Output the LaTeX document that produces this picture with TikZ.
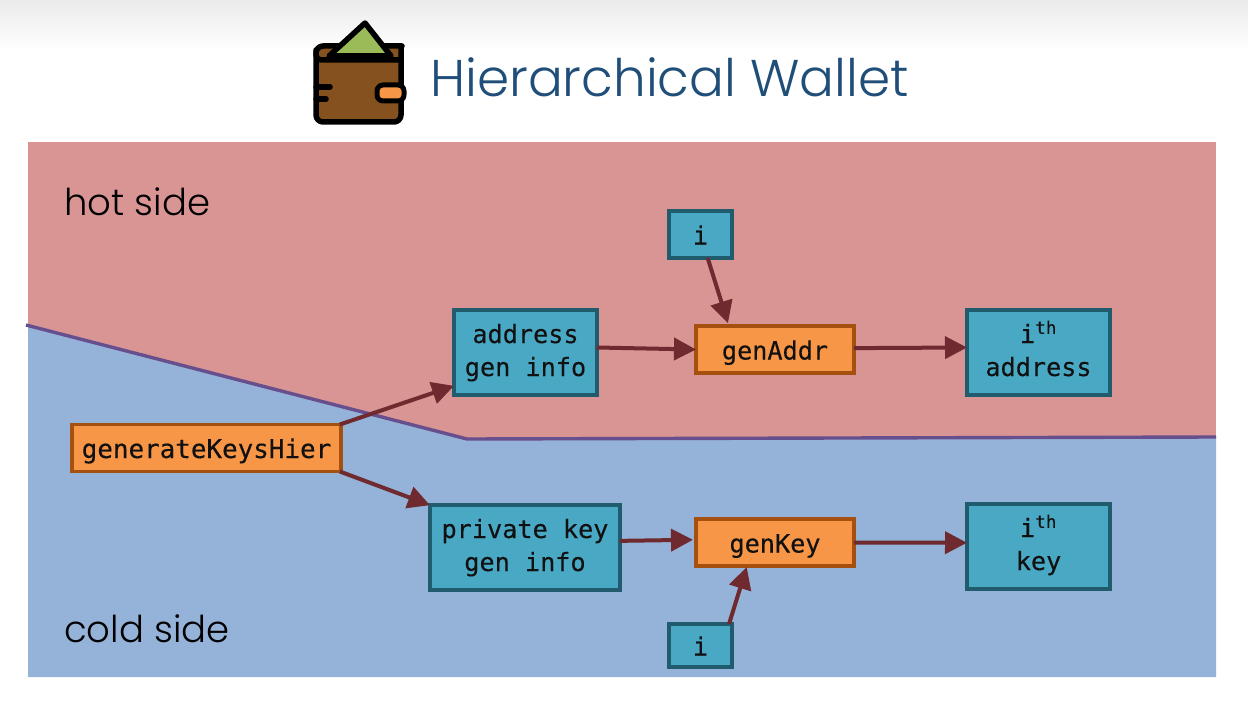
\documentclass[tikz,border=0pt]{standalone}
\usepackage{fontspec}
\usetikzlibrary{arrows.meta,calc}
\newfontfamily\boxfont[FakeBold=0.25]{DejaVu Sans Mono}
\newfontfamily\headfont{Poppins Light}
\definecolor{redside}{HTML}{D99594}
\definecolor{blueside}{HTML}{95B2D8}
\definecolor{divider}{HTML}{674F8D}
\definecolor{tealfill}{HTML}{49A9C5}
\definecolor{tealline}{HTML}{215C6E}
\definecolor{orangefill}{HTML}{F79646}
\definecolor{orangeline}{HTML}{A5500F}
\definecolor{arrowcol}{HTML}{6E2A2E}
\definecolor{titlecol}{HTML}{1F4E79}
\definecolor{brownfill}{HTML}{85511F}
\definecolor{greenfill}{HTML}{9BBB59}
\definecolor{inkcol}{HTML}{111111}
\tikzset{
  box/.style={draw,line width=3.8pt,outer sep=0pt,inner sep=0pt,anchor=center,
    align=center,text=inkcol,font=\boxfont\fontsize{25.2}{33}\selectfont},
  databox/.style={box,draw=tealline,fill=tealfill},
  funcbox/.style={box,draw=orangeline,fill=orangefill},
  conn/.style={draw=arrowcol,line width=4pt,-{Triangle[length=22pt,width=22pt]}},
  sidelabel/.style={inner sep=0pt,anchor=base west,text=black,font=\headfont\fontsize{37}{37}\selectfont},
  walletline/.style={draw=black,line width=5.5pt,line join=round,line cap=round}
}
\newcommand{\ithlabel}{i\smash{\textsuperscript{th}}}
\newcommand{\oneline}{\rule[-6pt]{0pt}{32pt}}
\newcommand{\topline}{\rule{0pt}{20pt}}
\newcommand{\botline}{\rule[-6pt]{0pt}{6pt}}
\begin{document}
\begin{tikzpicture}[x=1pt,y=-1pt]
\useasboundingbox (0,0) rectangle (1248,706);
\fill[white] (0,0) rectangle (1248,706);
\shade[top color=black!8,bottom color=white] (0,0) rectangle (1248,50);
% sides
\fill[redside] (28,142) rectangle (1216,677);
\fill[blueside] (28,326) -- (467,439) -- (1216,437) -- (1216,677) -- (28,677) -- cycle;
\draw[divider,line width=3.4pt] (26,325) -- (467,439) -- (1216,437);
% wallet
\draw[walletline,fill=brownfill,rounded corners=7pt] (402,46) -- (316,46) -- (316,122) -- (401,122) -- (401,46);
\draw[walletline,rounded corners=5pt] (316,50) -- (316,60) -- (401,60);
\draw[walletline] (316,87) -- (330,87);
\draw[walletline] (316,99) -- (326,99);
\draw[fill=orangefill,draw=black,line width=5pt,line join=round,rounded corners=6pt] (404,85) -- (377,85) -- (377,101) -- (404,101) -- cycle;
\fill[greenfill,draw=black,line width=5.5pt,line join=round] (365,23) -- (391,56) -- (329,56) -- cycle;
% title and side labels
\node[inner sep=0pt,anchor=base west,text=titlecol] (title) at (430,97)
  {\headfont\fontsize{51.7}{52}\selectfont Hierarchical Wallet};
\node[sidelabel] (hot) at (64,215) {hot side};
\node[sidelabel] (cold) at (64,642) {cold side};
% nodes
\node[funcbox,minimum width=269pt,minimum height=47pt] (gkh) at (206.5,448) {\fontsize{25.9}{33}\selectfont\oneline generateKeysHier};
\node[databox,minimum width=143pt,minimum height=85pt] (addr) at (525.5,352.5) {\topline address\\gen info\botline};
\node[databox,minimum width=190pt,minimum height=85pt] (priv) at (525,547.5) {\topline private key\\gen info\botline};
\node[funcbox,minimum width=158pt,minimum height=47pt] (genaddr) at (775,349.5) {\oneline genAddr};
\node[funcbox,minimum width=158pt,minimum height=47pt] (genkey) at (775,542.5) {\oneline genKey};
\node[databox,minimum width=143pt,minimum height=85pt] (ithaddr) at (1038.5,352.5) {\topline\ithlabel\\address\botline};
\node[databox,minimum width=143pt,minimum height=85pt] (ithkey) at (1038.5,546.5) {\topline\ithlabel\\key\botline};
\node[databox,minimum width=63pt,minimum height=47pt] (itop) at (700.5,234.5) {\oneline i};
\node[databox,minimum width=63pt,minimum height=43pt] (ibot) at (700.5,645.5) {\oneline i};
% connectors
\draw[conn] (gkh.10) -- (addr.205);
\draw[conn] (gkh.-10) -- (priv.156);
\draw[conn] (addr.4) -- (genaddr.west);
\draw[conn] (genaddr.1) -- (ithaddr.176);
\draw[conn,shorten >=3pt] (itop.-73) -- (genaddr.153);
\draw[conn,shorten >=3pt] (priv.4) -- (genkey.178);
\draw[conn] (genkey.east) -- (ithkey.177);
\draw[conn,shorten >=1pt] (ibot.37) -- (genkey.220);
\end{tikzpicture}
\end{document}
